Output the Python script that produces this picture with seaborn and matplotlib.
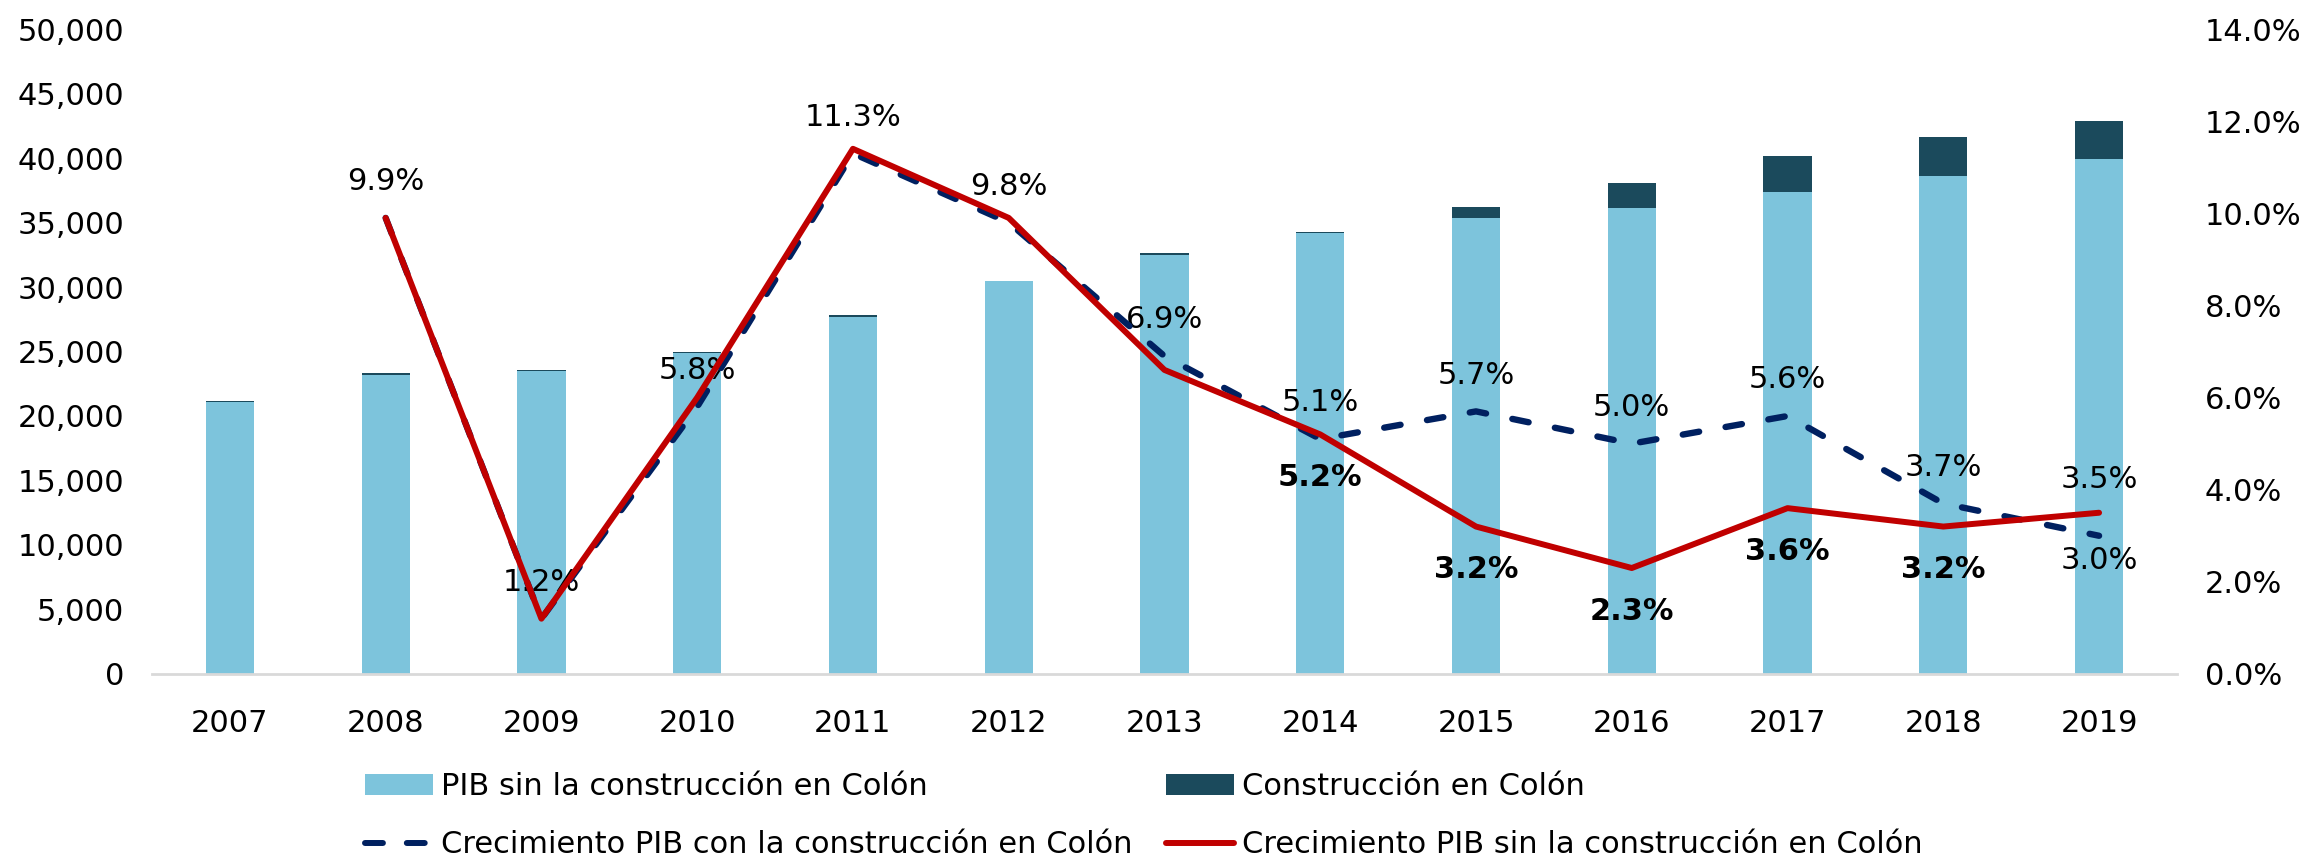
import numpy as np
import pandas as pd
import matplotlib
matplotlib.use("Agg")
import matplotlib.pyplot as plt
import seaborn as sns
from matplotlib.patches import Patch
from matplotlib.lines import Line2D
from matplotlib.ticker import FuncFormatter, MultipleLocator

# data (millones de balboas / %)
years = ["2007", "2008", "2009", "2010", "2011", "2012", "2013",
         "2014", "2015", "2016", "2017", "2018", "2019"]
pib_sin = [21100, 23150, 23450, 24900, 27700, 30450, 32450,
           34200, 35350, 36100, 37400, 38600, 39900]
construccion = [100, 150, 150, 100, 100, 50, 150,
                100, 850, 1950, 2750, 3000, 3000]

# growth series start in 2008
crec_years = years[1:]
crec_con = [9.9, 1.2, 5.8, 11.3, 9.8, 6.9, 5.1, 5.7, 5.0, 5.6, 3.7, 3.0]
crec_sin = [9.9, 1.2, 6.0, 11.4, 9.9, 6.6, 5.2, 3.2, 2.3, 3.6, 3.2, 3.5]

# which labels are printed for each line
labels_con = ["2008", "2009", "2010", "2011", "2012", "2013",
              "2014", "2015", "2016", "2017", "2018", "2019"]
labels_sin_bold = ["2014", "2015", "2016", "2017", "2018"]
labels_sin_plain = ["2019"]

light_blue = "#7DC4DC"
dark_teal = "#1B4A5C"
red = "#C00000"
navy = "#002060"

sns.set_theme(style="white")
plt.rcParams["font.family"] = ["DejaVu Sans"]
plt.rcParams["text.color"] = "black"
plt.rcParams["xtick.color"] = "black"
plt.rcParams["ytick.color"] = "black"
fs = 22

bars = pd.DataFrame({"year": years, "sin": pib_sin, "con": construccion})
bars["total"] = bars["sin"] + bars["con"]

lines = pd.DataFrame({"year": crec_years, "con": crec_con, "sin": crec_sin})
lines["pos"] = [years.index(y) for y in lines["year"]]

fig = plt.figure(figsize=(23.1, 8.59), dpi=100)
ax = fig.add_axes([0.0658, 0.2154, 0.8766, 0.7508])

sns.barplot(data=bars, x="year", y="total", order=years, color=dark_teal,
            saturation=1, width=0.31, errorbar=None, linewidth=0, ax=ax)
sns.barplot(data=bars, x="year", y="sin", order=years, color=light_blue,
            saturation=1, width=0.31, errorbar=None, linewidth=0, ax=ax)

ax.set_xlim(-0.5, len(years) - 0.5)
ax.set_ylim(0, 50000)
ax.yaxis.set_major_locator(MultipleLocator(5000))
ax.yaxis.set_major_formatter(FuncFormatter(lambda v, p: f"{v:,.0f}"))
ax.set_xlabel("")
ax.set_ylabel("")
for s in ["top", "left", "right"]:
    ax.spines[s].set_visible(False)
ax.spines["bottom"].set_color("#D9D9D9")
ax.spines["bottom"].set_linewidth(2)
ax.tick_params(axis="x", length=0, pad=25, labelsize=fs, colors="black")
ax.tick_params(axis="y", length=0, pad=20, labelsize=fs, colors="black")

ax2 = ax.twinx()
sns.lineplot(data=lines, x="pos", y="con", color=navy, linewidth=4.6,
             ax=ax2, zorder=3)
dash_line = ax2.lines[-1]
dash_line.set_dashes((2.6, 4.2))
dash_line.set_dash_capstyle("round")
sns.lineplot(data=lines, x="pos", y="sin", color=red, linewidth=4.3,
             ax=ax2, zorder=4)

ax2.set_ylim(0, 14)
ax2.yaxis.set_major_locator(MultipleLocator(2))
ax2.yaxis.set_major_formatter(FuncFormatter(lambda v, p: f"{v:.1f}%"))
ax2.set_xlim(-0.5, len(years) - 0.5)
ax2.set_xlabel("")
ax2.set_ylabel("")
for s in ax2.spines.values():
    s.set_visible(False)
ax2.tick_params(axis="y", length=0, pad=20, labelsize=fs, colors="black")
ax2.grid(False)
ax.grid(False)

for _, r in lines.iterrows():
    if r["year"] in labels_con:
        dy = -18 if r["year"] == "2019" else 26
        ax2.annotate(f"{r['con']:.1f}%", (r["pos"], r["con"]),
                     xytext=(0, dy), textcoords="offset points",
                     ha="center", va="center", fontsize=fs, zorder=2)
    if r["year"] in labels_sin_bold:
        ax2.annotate(f"{r['sin']:.1f}%", (r["pos"], r["sin"]),
                     xytext=(0, -31), textcoords="offset points",
                     ha="center", va="center", fontsize=fs,
                     fontweight="bold", zorder=2)
    if r["year"] in labels_sin_plain:
        ax2.annotate(f"{r['sin']:.1f}%", (r["pos"], r["sin"]),
                     xytext=(0, 24), textcoords="offset points",
                     ha="center", va="center", fontsize=fs, zorder=2)

for a in (ax, ax2):
    if a.get_legend() is not None:
        a.get_legend().remove()

dash_handle = Line2D([0], [0], color=navy, linewidth=4.3,
                     dashes=(3, 4), dash_capstyle="round")
handles = [
    Patch(facecolor=light_blue, edgecolor="none"),
    dash_handle,
    Patch(facecolor=dark_teal, edgecolor="none"),
    Line2D([0], [0], color=red, linewidth=4.3),
]
texts = [
    "PIB sin la construcción en Colón",
    "Crecimiento PIB con la construcción en Colón",
    "Construcción en Colón",
    "Crecimiento PIB sin la construcción en Colón",
]
fig.legend(handles, texts, ncol=2, loc="upper left",
           bbox_to_anchor=(0.158, 0.101), frameon=False, fontsize=fs,
           handlelength=2.22, handleheight=0.7, handletextpad=0.26,
           columnspacing=1.1, labelspacing=0.95, borderpad=0,
           borderaxespad=0)

fig.savefig("out.png", dpi=100)
